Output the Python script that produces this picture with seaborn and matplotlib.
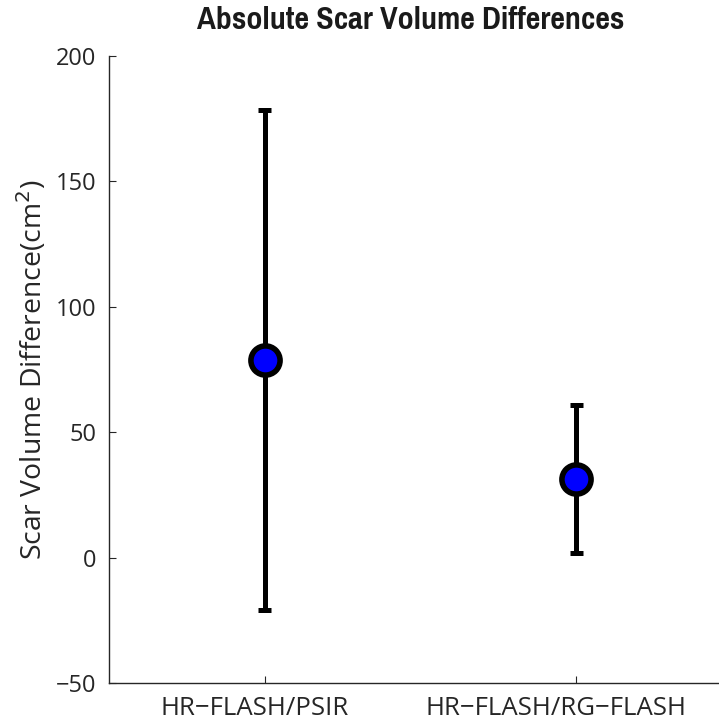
import matplotlib
matplotlib.use("Agg")
import matplotlib.pyplot as plt
from matplotlib.transforms import ScaledTranslation
from matplotlib import font_manager
import seaborn as sns
import pandas as pd

# Scar volume differences per sequence comparison: lower bound, mean, upper bound
comparisons = ["HR\u2212FLASH/PSIR", "HR\u2212FLASH/RG\u2212FLASH"]
lower = [-20.9, 1.8]
mean = [78.8, 31.3]
upper = [178.5, 60.9]
y_ticks = [-50, 0, 50, 100, 150, 200]

rows = []
for c, lo, m, hi in zip(comparisons, lower, mean, upper):
    for v in (lo, m, hi):
        rows.append({"comparison": c, "diff": v})
df = pd.DataFrame(rows)

sns.set_theme(style="ticks")
plt.rcParams["font.family"] = ["Open Sans", "DejaVu Sans"]

# narrow bold face for the title, if one is installed
title_font = None
for key in ("Narrow-Bold.", "NarrowBold", "Condensed-Bold.", "CondensedBold"):
    for f in font_manager.fontManager.ttflist:
        if key in f.fname:
            title_font = f.fname
            break
    if title_font:
        break

fig = plt.figure(figsize=(7.19, 7.23), dpi=100)
ax = fig.add_axes([0.1516, 0.0553, 0.8665, 0.8672])

sns.pointplot(
    data=df, x="comparison", y="diff", order=comparisons,
    estimator="median", errorbar=("pi", 100),
    linestyle="none", color="blue", capsize=0.042,
    markersize=21, markeredgewidth=4, markeredgecolor="black", zorder=4,
    err_kws={"color": "black", "linewidth": 3.6, "zorder": 2,
             "solid_capstyle": "butt"},
    ax=ax,
)

ax.set_xlim(-0.5, 1.5)
ax.set_ylim(-50, 200)
ax.set_yticks(y_ticks)
ax.set_yticklabels([("\u2212" + str(-t)) if t < 0 else str(t) for t in y_ticks])
ax.tick_params(direction="in", length=5, width=0.8, colors="#262626",
               labelcolor="#262626")
ax.tick_params(axis="y", pad=9, labelsize=17)
ax.tick_params(axis="x", pad=9, labelsize=18.5)
for s in ("top", "right"):
    ax.spines[s].set_visible(False)
for s in ("left", "bottom"):
    ax.spines[s].set_linewidth(1.0)
    ax.spines[s].set_color("#262626")

# category labels sit slightly left of their ticks
for lab, dx in zip(ax.get_xticklabels(), (-10.5, -20.5)):
    lab.set_transform(lab.get_transform() +
                      ScaledTranslation(dx / 100, 0, fig.dpi_scale_trans))

ax.set_xlabel("")
ax.set_ylabel("Scar Volume Difference(cm$^2$)", fontsize=20.4, color="#262626",
              labelpad=5)

if title_font:
    title_kw = {"fontproperties": font_manager.FontProperties(fname=title_font, size=25)}
else:
    title_kw = {"fontsize": 18.5, "fontweight": "bold"}
fig.text(0.571, 0.972, "Absolute Scar Volume Differences", ha="center",
         va="center", color="#1a1a1a", **title_kw)

fig.savefig("out.png", dpi=100)
